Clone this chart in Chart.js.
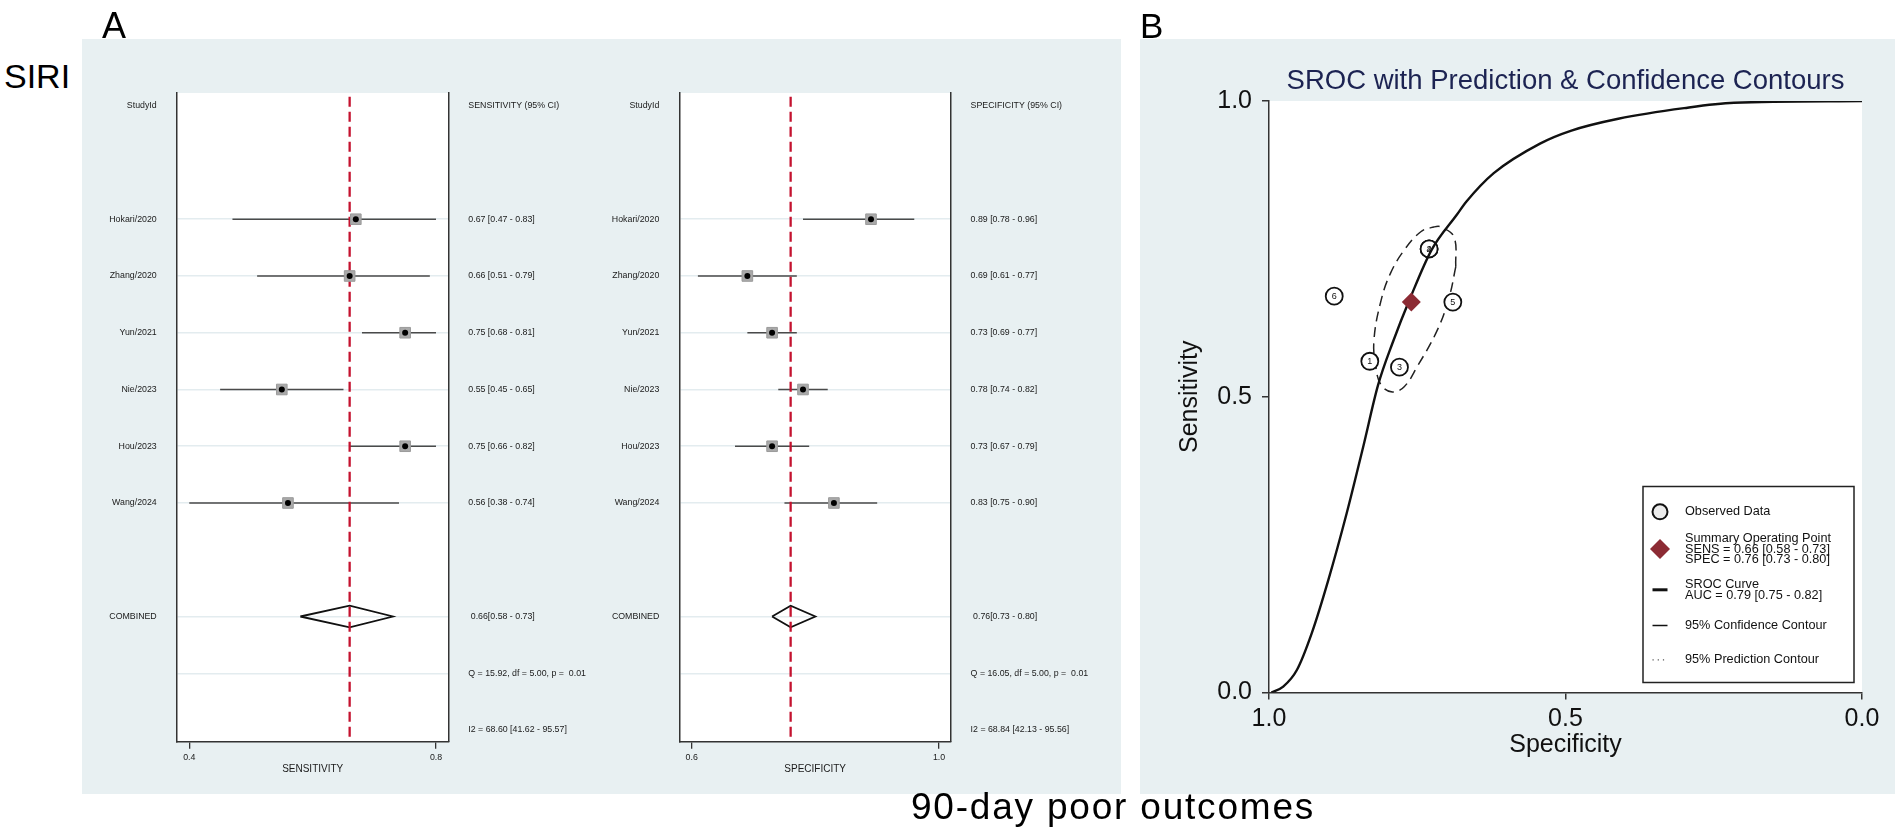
<!DOCTYPE html>
<html>
<head>
<meta charset="utf-8">
<script src="https://cdn.jsdelivr.net/npm/chart.js@4.4.1/dist/chart.umd.min.js"></script>
<style>
  body { margin: 0; width: 1902px; height: 829px; overflow: hidden; background: #fff; position: relative;
         font-family: "Liberation Sans", Arial, Helvetica, sans-serif; }
  .panel { position: absolute; background: #e8f0f2; }
  canvas { position: absolute; }
  .lbl { position: absolute; line-height: 1; color: #000; white-space: nowrap; }
</style>
</head>
<body>
<div class="panel" style="left:82px;top:39px;width:1039px;height:755px"></div>
<div class="panel" style="left:1140px;top:39px;width:755px;height:755px"></div>
<canvas id="sensForest" width="560" height="755" style="left:82px;top:39px;width:560px;height:755px"></canvas>
<canvas id="specForest" width="560" height="755" style="left:560px;top:39px;width:560px;height:755px"></canvas>
<canvas id="sroc" width="755" height="755" style="left:1140px;top:39px;width:755px;height:755px"></canvas>
<div class="lbl" style="left:4px;top:59px;font-size:34px">SIRI</div>
<div class="lbl" style="left:102px;top:8px;font-size:36px">A</div>
<div class="lbl" style="left:1140px;top:8px;font-size:35px">B</div>
<div class="lbl" style="left:813px;top:788px;width:600px;text-align:center;font-size:37px;letter-spacing:1.8px">90-day poor outcomes</div>
<script>
(function () {
  'use strict';

  // study level data (forest plots)
  const studies = ['Hokari/2020', 'Zhang/2020', 'Yun/2021', 'Nie/2023', 'Hou/2023', 'Wang/2024'];
  const sens = [0.67, 0.66, 0.75, 0.55, 0.75, 0.56];
  const sensLo = [0.47, 0.51, 0.68, 0.45, 0.66, 0.38];
  const sensHi = [0.83, 0.79, 0.81, 0.65, 0.82, 0.74];
  const spec = [0.89, 0.69, 0.73, 0.78, 0.73, 0.83];
  const specLo = [0.78, 0.61, 0.69, 0.74, 0.67, 0.75];
  const specHi = [0.96, 0.77, 0.77, 0.82, 0.79, 0.90];

  // pooled estimate [point, lower, upper]
  const pooledSens = [0.66, 0.58, 0.73];
  const pooledSpec = [0.76, 0.73, 0.80];
  const auc = [0.79, 0.75, 0.82];

  const sensStats = ['Q = 15.92, df = 5.00, p =  0.01', 'I2 = 68.60 [41.62 - 95.57]'];
  const specStats = ['Q = 16.05, df = 5.00, p =  0.01', 'I2 = 68.84 [42.13 - 95.56]'];

  const sensTicks = [0.4, 0.8];
  const specTicks = [0.6, 1.0];
  const srocTicks = [0, 0.5, 1];

  // study numbers shown in the SROC circles (same order as studies)
  const pointLabels = ['6', '5', '4', '3', '2', '1'];

  // SROC curve
  const curveSpec = [0.996, 0.976, 0.953, 0.928, 0.900, 0.869, 0.841, 0.816, 0.792, 0.761, 0.726, 0.683, 0.667, 0.621, 0.543, 0.490, 0.411, 0.300, 0.216, 0.0];
  const curveSens = [0.0, 0.010, 0.038, 0.100, 0.190, 0.303, 0.416, 0.520, 0.590, 0.669, 0.748, 0.808, 0.830, 0.878, 0.928, 0.950, 0.970, 0.988, 0.997, 1.0];

  // 95% confidence contour
  const confSpec = [0.685, 0.696, 0.716, 0.750, 0.772, 0.792, 0.811, 0.820, 0.823, 0.811, 0.795, 0.772, 0.744, 0.722, 0.710, 0.688, 0.685];
  const confSens = [0.720, 0.669, 0.613, 0.551, 0.517, 0.508, 0.520, 0.551, 0.596, 0.663, 0.709, 0.748, 0.779, 0.787, 0.787, 0.770, 0.720];

  Chart.defaults.font.family = '"Liberation Sans", Arial, Helvetica, sans-serif';
  Chart.defaults.animation = false;

  const TEXT = '#1a1a1a';
  const AXIS = '#333';

  const plotBg = {
    id: 'plotBg',
    beforeDraw(chart) {
      const { ctx, chartArea: a } = chart;
      ctx.save();
      ctx.fillStyle = '#fff';
      ctx.fillRect(a.left, a.top, a.right - a.left, a.bottom - a.top);
      ctx.restore();
    }
  };

  const fmt = (v, lo, hi) => `${v.toFixed(2)} [${lo.toFixed(2)} - ${hi.toFixed(2)}]`;

  const studyRows = [2, 3, 4, 5, 6, 7];
  const combinedRow = 9;
  const allRows = [0, 1, 2, 3, 4, 5, 6, 7, 8, 9, 10, 11];
  const gridRows = [2, 3, 4, 5, 6, 7, 9, 10];
  const rowMin = -0.224;
  const rowMax = 11.206;

  function buildForest(id, o) {
    const rowLabels = ['StudyId', ''].concat(studies, ['', 'COMBINED', '', '']);
    const estLabels = [o.header, '']
      .concat(o.vals.map((v, i) => fmt(v, o.lo[i], o.hi[i])))
      .concat(['', ' ' + o.pooled[0].toFixed(2) + '[' + o.pooled[1].toFixed(2) + ' - ' + o.pooled[2].toFixed(2) + ']', o.stats[0], o.stats[1]]);
    const tLo = o.ticks[0];
    const tHi = o.ticks[o.ticks.length - 1];
    const p = o.pooled;
    const dh = 0.19;

    const datasets = [
      {
        data: o.vals.map((v, i) => ({ x: v, y: studyRows[i] })),
        pointStyle: 'circle', pointRadius: 3, backgroundColor: '#000', borderWidth: 0
      },
      {
        data: o.vals.map((v, i) => ({ x: v, y: studyRows[i] })),
        pointStyle: 'rect', pointRadius: 7.5, backgroundColor: '#a9a9a9', borderColor: '#9a9a9a', borderWidth: 1
      },
      {
        data: [{ x: p[0], y: -0.16 }, { x: p[0], y: rowMax }],
        showLine: true, borderColor: '#c4122f', borderWidth: 2.3, borderDash: [10, 5], pointRadius: 0
      }
    ];
    studies.forEach((s, i) => {
      datasets.push({
        data: [{ x: Math.max(o.lo[i], tLo), y: studyRows[i] }, { x: Math.min(o.hi[i], tHi), y: studyRows[i] }],
        showLine: true, borderColor: '#4a4a4a', borderWidth: 1.6, pointRadius: 0
      });
    });
    datasets.push({
      data: [
        { x: p[1], y: combinedRow }, { x: p[0], y: combinedRow - dh },
        { x: p[2], y: combinedRow }, { x: p[0], y: combinedRow + dh }, { x: p[1], y: combinedRow }
      ],
      showLine: true, borderColor: '#111', borderWidth: 1.8, pointRadius: 0, tension: 0
    });

    const small = { size: 8.8 };

    new Chart(document.getElementById(id), {
      type: 'scatter',
      data: { datasets },
      plugins: [plotBg],
      options: {
        responsive: false,
        layout: { padding: { top: 54, left: 0, right: 0, bottom: 0 } },
        plugins: { legend: { display: false }, tooltip: { enabled: false } },
        scales: {
          x: {
            type: 'linear', min: o.min, max: o.max, bounds: 'data',
            afterBuildTicks: (s) => { s.ticks = o.ticks.map((v) => ({ value: v })); },
            afterFit: (s) => { s.height = 52.3; },
            ticks: { callback: (v) => v.toFixed(1), font: small, color: TEXT, padding: 3.7, maxRotation: 0, autoSkip: false },
            grid: { drawOnChartArea: false, drawTicks: true, tickLength: 7, color: AXIS, lineWidth: 1.3 },
            border: { display: true, color: AXIS, width: 1.5 },
            title: { display: true, text: o.axisTitle, font: { size: 10 }, color: TEXT, padding: { top: 0, bottom: 19 } }
          },
          y: {
            type: 'linear', position: 'left', reverse: true, min: rowMin, max: rowMax, bounds: 'data',
            afterBuildTicks: (s) => { s.ticks = allRows.map((v) => ({ value: v })); },
            afterFit: (s) => { s.width = o.leftW; },
            ticks: { callback: (v) => rowLabels[v] || '', font: small, color: TEXT, padding: 20, autoSkip: false },
            grid: {
              drawTicks: false, lineWidth: 1.5,
              color: (c) => (c.tick && gridRows.includes(c.tick.value)) ? '#e3ecef' : 'rgba(0,0,0,0)'
            },
            border: { display: true, color: AXIS, width: 1.5 }
          },
          y2: {
            type: 'linear', position: 'right', reverse: true, min: rowMin, max: rowMax, bounds: 'data',
            afterBuildTicks: (s) => { s.ticks = allRows.map((v) => ({ value: v })); },
            afterFit: (s) => { s.width = o.rightW; },
            ticks: { callback: (v) => estLabels[v] || '', font: small, color: TEXT, padding: 19.6, autoSkip: false },
            grid: { display: false, drawTicks: false },
            border: { display: true, color: AXIS, width: 1.5 }
          }
        }
      }
    });
  }

  buildForest('sensForest', {
    vals: sens, lo: sensLo, hi: sensHi, pooled: pooledSens, stats: sensStats, ticks: sensTicks,
    header: 'SENSITIVITY (95% CI)', axisTitle: 'SENSITIVITY',
    min: 0.3796, max: 0.8206, leftW: 94.7, rightW: 560 - 94.7 - 272
  });
  buildForest('specForest', {
    vals: spec, lo: specLo, hi: specHi, pooled: pooledSpec, stats: specStats, ticks: specTicks,
    header: 'SPECIFICITY (95% CI)', axisTitle: 'SPECIFICITY',
    min: 0.5799, max: 1.0194, leftW: 119.3, rightW: 560 - 119.3 - 271.7
  });

  // ---- SROC ----
  const pointNumbers = {
    id: 'pointNumbers',
    afterDatasetsDraw(chart) {
      const meta = chart.getDatasetMeta(2);
      const { ctx } = chart;
      ctx.save();
      ctx.font = '9px "Liberation Sans", Arial, sans-serif';
      ctx.fillStyle = '#111';
      ctx.textAlign = 'center';
      ctx.textBaseline = 'middle';
      meta.data.forEach((el, i) => ctx.fillText(pointLabels[i], el.x, el.y + 0.5));
      ctx.restore();
    }
  };

  const legendItems = [
    { symbol: 'circle', lines: ['Observed Data'] },
    {
      symbol: 'diamond',
      lines: ['Summary Operating Point',
        `SENS = ${fmt(pooledSens[0], pooledSens[1], pooledSens[2])}`,
        `SPEC = ${fmt(pooledSpec[0], pooledSpec[1], pooledSpec[2])}`]
    },
    { symbol: 'thick', lines: ['SROC Curve', `AUC = ${fmt(auc[0], auc[1], auc[2])}`] },
    { symbol: 'thin', lines: ['95% Confidence Contour'] },
    { symbol: 'dots', lines: ['95% Prediction Contour'] }
  ];
  const legendRowY = [25.3, 62.6, 103.3, 139, 173.3];

  const srocLegend = {
    id: 'srocLegend',
    afterDatasetsDraw(chart) {
      const { ctx, chartArea: a } = chart;
      const w = 211, h = 196;
      const x0 = a.right - 8 - w;
      const y0 = a.bottom - 10 - h;
      ctx.save();
      ctx.fillStyle = '#fff';
      ctx.fillRect(x0, y0, w, h);
      ctx.strokeStyle = '#222';
      ctx.lineWidth = 1.5;
      ctx.strokeRect(x0, y0, w, h);
      ctx.font = '12.7px "Liberation Sans", Arial, sans-serif';
      ctx.fillStyle = '#111';
      ctx.textBaseline = 'middle';
      ctx.textAlign = 'left';
      const sx = x0 + 17;
      legendItems.forEach((item, k) => {
        const cy = y0 + legendRowY[k];
        const lh = 10.8;
        const first = cy - (item.lines.length - 1) * lh / 2;
        item.lines.forEach((t, j) => ctx.fillText(t, x0 + 42, first + j * lh));
        ctx.beginPath();
        if (item.symbol === 'circle') {
          ctx.arc(sx, cy, 7.5, 0, Math.PI * 2);
          ctx.fillStyle = '#ececec';
          ctx.fill();
          ctx.lineWidth = 2;
          ctx.strokeStyle = '#111';
          ctx.stroke();
          ctx.fillStyle = '#111';
        } else if (item.symbol === 'diamond') {
          ctx.moveTo(sx - 10, cy); ctx.lineTo(sx, cy - 10); ctx.lineTo(sx + 10, cy); ctx.lineTo(sx, cy + 10);
          ctx.closePath();
          ctx.fillStyle = '#8c2b34';
          ctx.fill();
          ctx.fillStyle = '#111';
        } else if (item.symbol === 'thick' || item.symbol === 'thin') {
          ctx.moveTo(sx - 7.5, cy); ctx.lineTo(sx + 7.5, cy);
          ctx.lineWidth = item.symbol === 'thick' ? 3 : 1.5;
          ctx.strokeStyle = '#111';
          ctx.stroke();
        } else {
          ctx.setLineDash([1.2, 4]);
          ctx.moveTo(sx - 7.5, cy); ctx.lineTo(sx + 7.5, cy);
          ctx.lineWidth = 1.3;
          ctx.strokeStyle = '#555';
          ctx.stroke();
          ctx.setLineDash([]);
        }
      });
      ctx.restore();
    }
  };

  const big = { size: 25 };

  new Chart(document.getElementById('sroc'), {
    type: 'scatter',
    data: {
      datasets: [
        {
          data: [{ x: pooledSpec[0], y: pooledSens[0] }],
          pointStyle: 'rectRot', pointRadius: 9.5, backgroundColor: '#8c2b34', borderColor: '#8c2b34', borderWidth: 0
        },
        {
          data: curveSpec.map((s, i) => ({ x: s, y: curveSens[i] })),
          showLine: true, borderColor: '#111', borderWidth: 2.4, pointRadius: 0, cubicInterpolationMode: 'monotone'
        },
        {
          data: spec.map((s, i) => ({ x: s, y: sens[i] })),
          pointStyle: 'circle', pointRadius: 8.5, backgroundColor: '#fff', borderColor: '#111', borderWidth: 1.8
        },
        {
          data: confSpec.map((s, i) => ({ x: s, y: confSens[i] })),
          showLine: true, borderColor: '#222', borderWidth: 1.5, borderDash: [10, 6], pointRadius: 0, tension: 0.4
        }
      ]
    },
    plugins: [plotBg, pointNumbers, srocLegend],
    options: {
      responsive: false,
      layout: { padding: { top: 0, right: 33, bottom: 0, left: 0 } },
      plugins: {
        legend: { display: false },
        tooltip: { enabled: false },
        title: {
          display: true, fullSize: false,
          text: 'SROC with Prediction & Confidence Contours',
          font: { size: 27.5, weight: 'normal' }, color: '#1c2352',
          padding: { top: 26.2, bottom: 2.8 }
        }
      },
      scales: {
        x: {
          type: 'linear', reverse: true, min: 0, max: 1, bounds: 'data',
          afterBuildTicks: (s) => { s.ticks = srocTicks.map((v) => ({ value: v })); },
          afterFit: (s) => { s.height = 101.5; },
          ticks: { callback: (v) => v.toFixed(1), font: big, color: '#111', padding: 5, maxRotation: 0, autoSkip: false },
          grid: { drawOnChartArea: false, drawTicks: true, tickLength: 7, color: AXIS, lineWidth: 1.5 },
          border: { display: true, color: AXIS, width: 1.5 },
          title: { display: true, text: 'Specificity', font: big, color: '#111', padding: { top: 0, bottom: 34 } }
        },
        y: {
          type: 'linear', min: 0, max: 1, bounds: 'data',
          afterBuildTicks: (s) => { s.ticks = srocTicks.map((v) => ({ value: v })); },
          afterFit: (s) => { s.width = 129; },
          ticks: { callback: (v) => v.toFixed(1), font: big, color: '#111', padding: 10, autoSkip: false },
          grid: { drawOnChartArea: false, drawTicks: true, tickLength: 7, color: AXIS, lineWidth: 1.5 },
          border: { display: true, color: AXIS, width: 1.5 },
          title: { display: true, text: 'Sensitivity', font: big, color: '#111', padding: { top: 35, bottom: 0 } }
        }
      }
    }
  });
})();
</script>
</body>
</html>
